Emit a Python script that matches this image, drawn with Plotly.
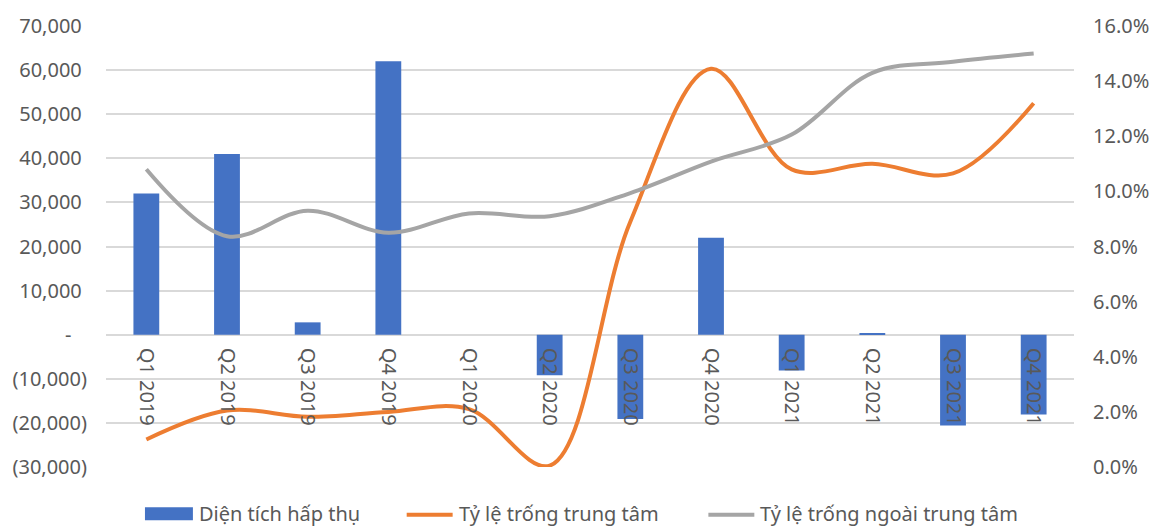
import plotly.graph_objects as go

# Quarterly office market data
quarters = ["Q1 2019", "Q2 2019", "Q3 2019", "Q4 2019",
            "Q1 2020", "Q2 2020", "Q3 2020", "Q4 2020",
            "Q1 2021", "Q2 2021", "Q3 2021", "Q4 2021"]
absorption = [32000, 41000, 2800, 62000, 0, -9200, -19100, 22000, -8100, 300, -20600, -18100]
center_vacancy = [0.010, 0.0205, 0.0182, 0.0200, 0.0210, 0.0005,
                  0.0890, 0.1445, 0.1080, 0.1100, 0.1065, 0.1320]
outside_vacancy = [0.1080, 0.0837, 0.0930, 0.0850, 0.0920, 0.0910,
                   0.0994, 0.1108, 0.1206, 0.1430, 0.1470, 0.1500]

left_ticks = list(range(-30000, 70001, 10000))
right_ticks = [0.00, 0.02, 0.04, 0.06, 0.08, 0.10, 0.12, 0.14, 0.16]

series_names = ["Diện tích hấp thụ", "Tỷ lệ trống trung tâm", "Tỷ lệ trống ngoài trung tâm"]

BLUE, ORANGE, GRAY = "#4472C4", "#ED7D31", "#A5A5A5"
TEXT = "#595959"
GRID = "#D9D9D9"
FONT = "Noto Sans"
FS = 20

W, H = 1161, 527
M = dict(l=106, r=86, t=24, b=60)
Y_MIN, Y_MAX = -30000, 70000


def accounting(v):
    """Accounting-style label: thousands separators, negatives in brackets, zero as a dash."""
    if v > 0:
        return f"{v:,}\u00a0"
    if v < 0:
        return f"({-v:,})"
    return "-\u00a0\u00a0\u00a0"


def px_x(px):
    return (px - M["l"]) / (W - M["l"] - M["r"])


def px_y(py):
    return (H - M["b"] - py) / (H - M["t"] - M["b"])


fig = go.Figure()
fig.add_trace(go.Bar(x=quarters, y=absorption, name=series_names[0],
                     marker=dict(color=BLUE, line=dict(width=0))))
fig.add_trace(go.Scatter(x=quarters, y=center_vacancy, name=series_names[1], yaxis="y2",
                         mode="lines",
                         line=dict(color=ORANGE, width=4, shape="spline", smoothing=1)))
fig.add_trace(go.Scatter(x=quarters, y=outside_vacancy, name=series_names[2], yaxis="y2",
                         mode="lines",
                         line=dict(color=GRAY, width=4, shape="spline", smoothing=1)))

fig.update_layout(
    width=W, height=H, margin=M,
    paper_bgcolor="white", plot_bgcolor="white",
    font=dict(family=FONT, size=FS, color=TEXT),
    bargap=0.68, showlegend=False,
    xaxis=dict(type="category", range=[-0.5, len(quarters) - 0.5],
               anchor="free", position=(0 - Y_MIN) / (Y_MAX - Y_MIN),
               showgrid=False, showline=False, zeroline=False,
               tickangle=90, ticks="", ticklabelstandoff=12),
    yaxis=dict(range=[Y_MIN, Y_MAX], tickvals=left_ticks,
               ticktext=[accounting(v) for v in left_ticks],
               showgrid=True, gridcolor=GRID, gridwidth=1.5,
               zeroline=True, zerolinecolor=GRID, zerolinewidth=1.5,
               ticks="", showline=False, ticklabelstandoff=18),
    yaxis2=dict(overlaying="y", side="right", range=[0, 0.16],
                tickvals=right_ticks, tickformat=".1%",
                showgrid=False, zeroline=False, ticks="", showline=False,
                ticklabelstandoff=18),
)

# Legend row drawn beneath the plot
legend_starts = [145, 405, 707]
legend_colors = [BLUE, ORANGE, GRAY]
legend_y = 514
for i, (x0, name, col) in enumerate(zip(legend_starts, series_names, legend_colors)):
    if i == 0:
        fig.add_shape(type="rect", xref="paper", yref="paper",
                      x0=px_x(x0), x1=px_x(x0 + 48), y0=px_y(legend_y - 6.5), y1=px_y(legend_y + 6.5),
                      fillcolor=col, line=dict(width=0))
    else:
        fig.add_shape(type="line", xref="paper", yref="paper",
                      x0=px_x(x0 + 2), x1=px_x(x0 + 48), y0=px_y(legend_y + 1), y1=px_y(legend_y + 1),
                      line=dict(color=col, width=4))
    fig.add_annotation(x=px_x(x0 + 52), y=px_y(legend_y), xref="paper", yref="paper",
                       text=name, showarrow=False, xanchor="left", yanchor="middle",
                       font=dict(family=FONT, size=FS, color=TEXT))

fig.write_html("out.html")
